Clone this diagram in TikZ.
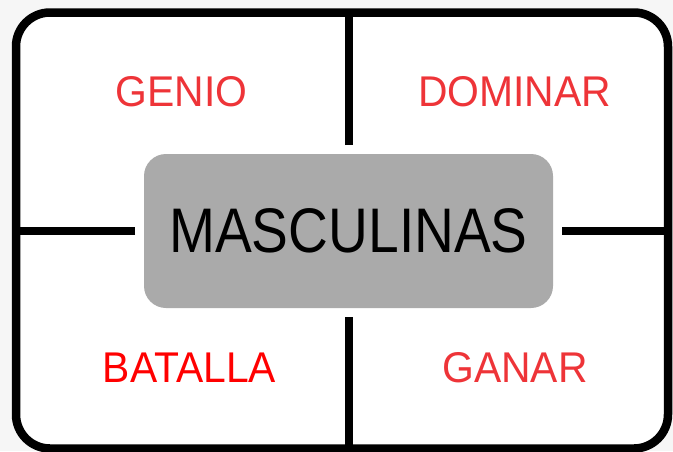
\documentclass[tikz,border=0pt]{standalone}
\usepackage{fontspec}
\setmainfont{Liberation Sans}
\newfontfamily\narrowfont[FakeStretch=0.875]{Liberation Sans}
\newfontfamily\wordfont[FakeStretch=0.95]{Liberation Sans}
\definecolor{wordred}{RGB}{238,52,56}
\definecolor{boxgray}{RGB}{170,170,170}

\begin{document}
\begin{tikzpicture}[x=1pt,y=-1pt,
            framenode/.style={rectangle, draw=black, fill=white, line width=8.5pt, rounded corners=34pt, minimum width=652pt, minimum height=436pt, inner sep=0pt, outer sep=0pt},
            titlenode/.style={rectangle, fill=boxgray, rounded corners=22pt, minimum width=409pt, minimum height=154pt, inner sep=0pt, outer sep=9pt, font=\narrowfont\fontsize{63}{63}\selectfont},
            wordnode/.style={text=wordred, inner sep=0pt, font=\wordfont\fontsize{43}{43}\selectfont},
            divider/.style={black, line width=8pt},
        ]
        \useasboundingbox (0,0) rectangle (673,451);
        \fill[gray!7] (0,0) rectangle (673,451);

        \node[framenode] (frame) at (342,230.5) {};
        \node[titlenode] (title) at (348.5,231) {MASCULINAS};

        \node[wordnode] (genio) at (181.5,91.5) {GENIO};
        \node[wordnode] (dominar) at (514.5,91.5) {DOMINAR};
        \node[wordnode, text=red] (batalla) at (189.5,367.5) {BATALLA};
        \node[wordnode] (ganar) at (515,367.5) {GANAR};

        \draw[divider] (title.north) -- (title.north |- frame.north);
        \draw[divider] (title.south) -- (title.south |- frame.south);
        \draw[divider] (title.west) -- (title.west -| frame.west);
        \draw[divider] (title.east) -- (title.east -| frame.east);
    \end{tikzpicture}
\end{document}
